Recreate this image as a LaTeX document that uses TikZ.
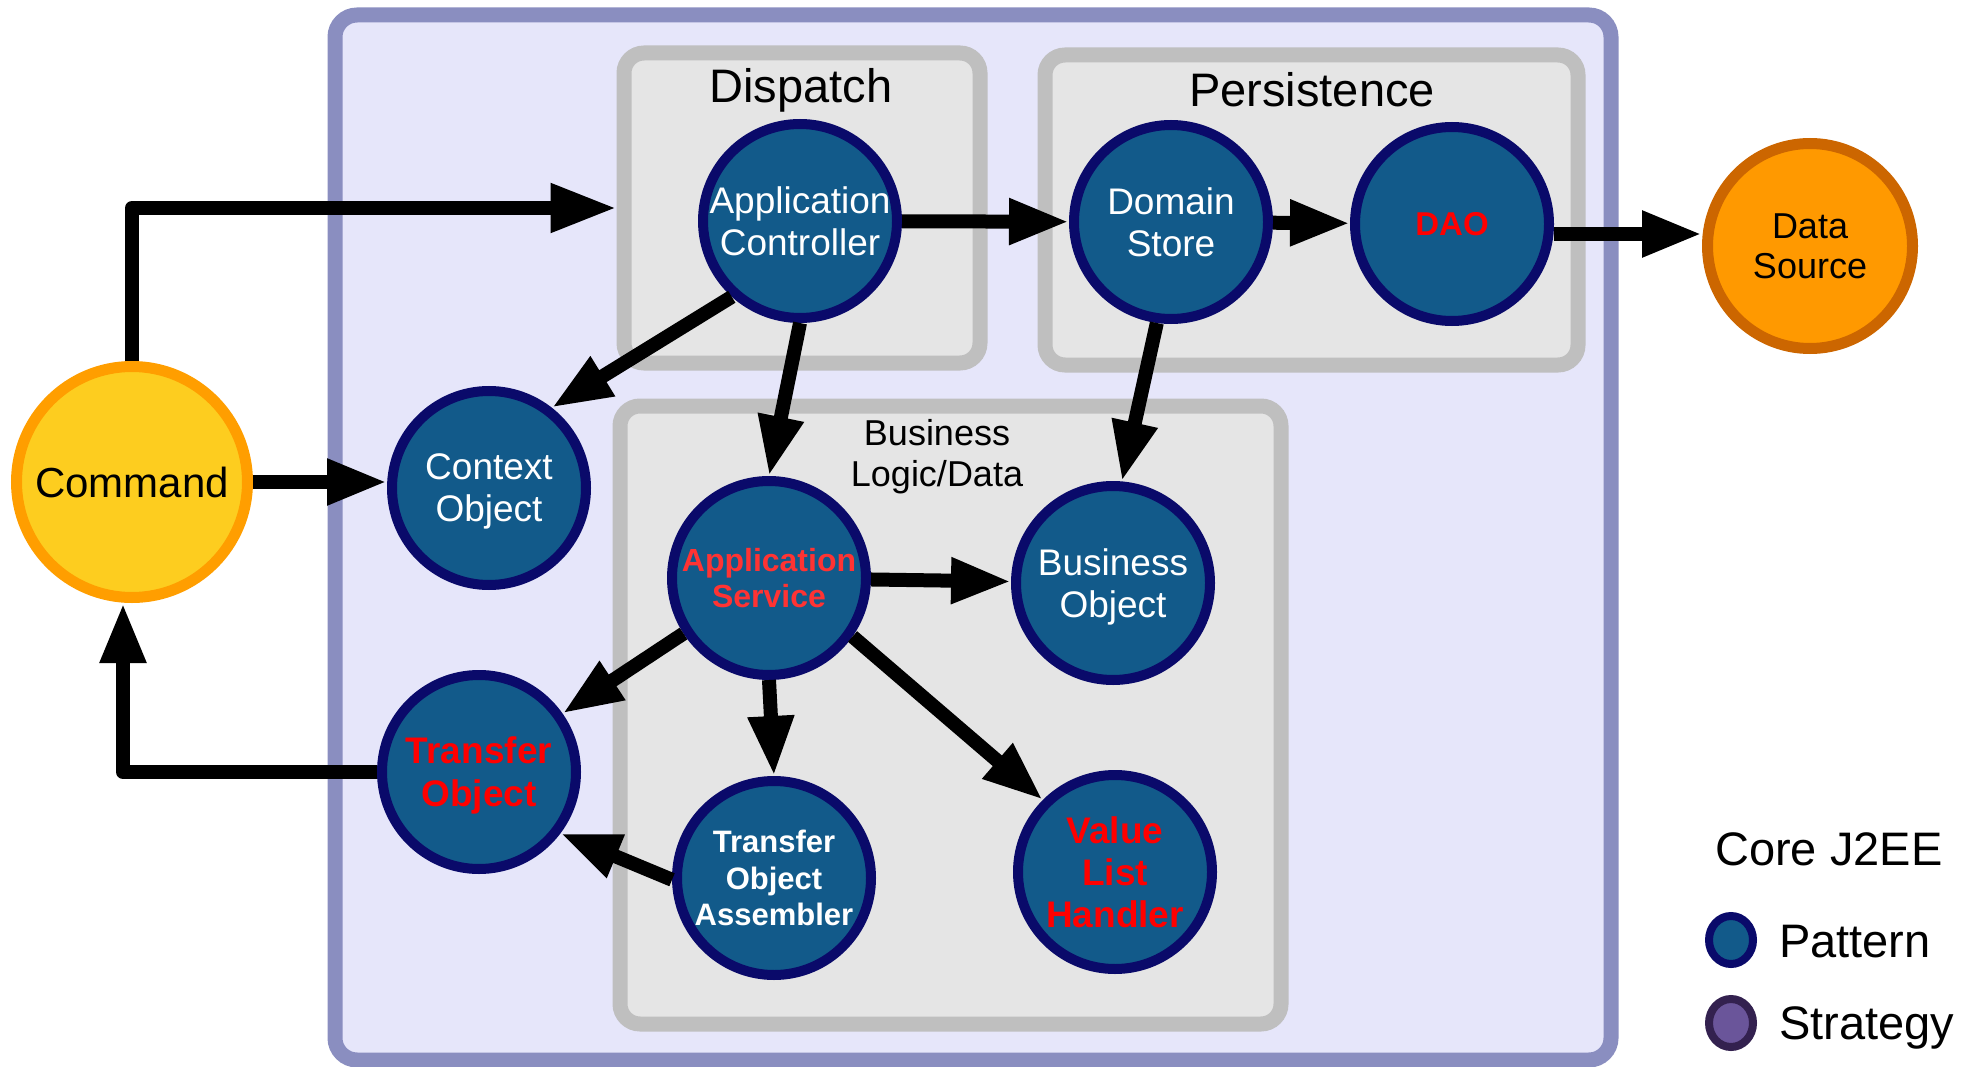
\documentclass[tikz,border=0pt]{standalone}
\usepackage{fontspec}
\setmainfont{Liberation Sans}
\usetikzlibrary{arrows.meta,shapes.geometric}

\definecolor{frameedge}{HTML}{8A8EC0}
\definecolor{framefill}{HTML}{E6E6FA}
\definecolor{groupedge}{HTML}{BFBFBF}
\definecolor{groupfill}{HTML}{E5E5E5}
\definecolor{patfill}{HTML}{125A8A}
\definecolor{patedge}{HTML}{0A0A6A}
\definecolor{cmdfill}{HTML}{FDCD1F}
\definecolor{cmdedge}{HTML}{FF9E00}
\definecolor{dsfill}{HTML}{FF9900}
\definecolor{dsedge}{HTML}{CC6600}
\definecolor{stratfill}{HTML}{6A559A}
\definecolor{stratedge}{HTML}{33214F}
\definecolor{softred}{HTML}{FF3333}

\begin{document}
\begin{tikzpicture}[x=1pt,y=-1pt,
  frame/.style={draw=frameedge,fill=framefill,line width=15pt,rounded corners=22pt,inner sep=0pt},
  group/.style={draw=groupedge,fill=groupfill,line width=15pt,rounded corners=20pt,inner sep=0pt},
  pattern/.style={circle,draw=patedge,fill=patfill,line width=10pt,minimum size=194pt,
    inner sep=0pt,align=center,text=white,font=\fontsize{37}{42}\selectfont},
  hot/.style={text=red,font=\bfseries\fontsize{37}{43}\selectfont},
  title/.style={font=\fontsize{47}{56}\selectfont,inner sep=0pt},
  flow/.style={line width=14pt,line join=round,-{Triangle[length=60pt,width=43pt]}},
  legendtext/.style={font=\fontsize{47}{56}\selectfont,inner sep=0pt,anchor=base west}
]
\useasboundingbox (0,0) rectangle (1973,1067);

% enclosing frame and the three groups
\node[frame,minimum width=1276pt,minimum height=1045pt] (tier) at (973,537.5) {};
\node[group,minimum width=356pt,minimum height=310pt] (dispatch) at (802,208) {};
\node[group,minimum width=533pt,minimum height=310pt] (persist) at (1311.5,210) {};
\node[group,minimum width=661pt,minimum height=618pt] (business) at (950.5,715) {};

\node[title,anchor=base] (dispatchlbl) at (801,103) {Dispatch};
\node[title,anchor=base] (persistlbl) at (1312,107) {Persistence};
\node[font=\fontsize{36}{41}\selectfont,align=center,inner sep=0pt] (businesslbl) at (937,457) {Business\\Logic/Data};

% pattern nodes (descenders of a last line are smashed so the caps stay centred)
\node[pattern] (appctrl) at (800,221) {Application\\Controller};
\node[pattern] (ctx) at (489,488) {Context\\\smash{Object}};
\node[pattern] (domain) at (1171,222) {Domain\\Store};
\node[pattern,hot,font=\bfseries\fontsize{33}{38}\selectfont] (dao) at (1452,224) {DAO};
\node[pattern] (bo) at (1113,583) {Business\\\smash{Object}};
\node[pattern,text=softred,font=\bfseries\fontsize{32}{36}\selectfont] (appsvc) at (769,578) {Application\\Service};
\node[pattern,hot] (to) at (479,772) {Transfer\\\smash{Object}};
\node[pattern,font=\bfseries\fontsize{31}{36.5}\selectfont] (toa) at (774,878) {Transfer\\Object\\Assembler};
\node[pattern,hot,font=\bfseries\fontsize{37}{42}\selectfont] (vlh) at (1115,872) {Value\\List\\Handler};

% outside the tier
\node[circle,draw=cmdedge,fill=cmdfill,line width=11pt,minimum size=231pt,inner sep=0pt,
  font=\fontsize{42}{48}\selectfont] (cmd) at (132,482) {Command};
\node[circle,draw=dsedge,fill=dsfill,line width=11pt,minimum size=205pt,inner sep=0pt,
  align=center,font=\fontsize{36}{40}\selectfont] (ds) at (1810,246) {Data\\Source};

% connectors
\draw[flow,-{Triangle[length=66pt,width=46pt]}] (cmd.north) |- (dispatch.west);
\draw[flow] (cmd.east) -- (ctx.west |- cmd.east);
\draw[flow] (appctrl) -- (domain);
\draw[flow] (domain) -- (dao);
\draw[flow] (dao.east |- 0,234) -- (ds.west |- 0,234);
\draw[flow] (appctrl.228) -- (ctx.52);
\draw[flow] (appctrl.south) -- (appsvc.north);
\draw[flow] (domain.262) -- (bo.85);
\draw[flow] (appsvc) -- (bo);
\draw[flow] (appsvc.213) -- (to.35);
\draw[flow] (appsvc.south) -- (toa.north);
\draw[flow] (appsvc.325) -- (vlh.135);
\draw[flow] (toa.181) -- (to.323);
\draw[flow] (to.west) -| ([xshift=-9pt]cmd.south);

% legend
\node[legendtext] (legendtitle) at (1715,865) {Core J2EE};
\node[ellipse,draw=patedge,fill=patfill,line width=8pt,minimum width=44pt,minimum height=48pt,inner sep=0pt] (keypattern) at (1731,940) {};
\node[legendtext] (keypatternlbl) at (1779,957) {Pattern};
\node[ellipse,draw=stratedge,fill=stratfill,line width=8pt,minimum width=44pt,minimum height=48pt,inner sep=0pt] (keystrategy) at (1731,1023) {};
\node[legendtext] (keystrategylbl) at (1779,1039) {Strategy};
\end{tikzpicture}
\end{document}
